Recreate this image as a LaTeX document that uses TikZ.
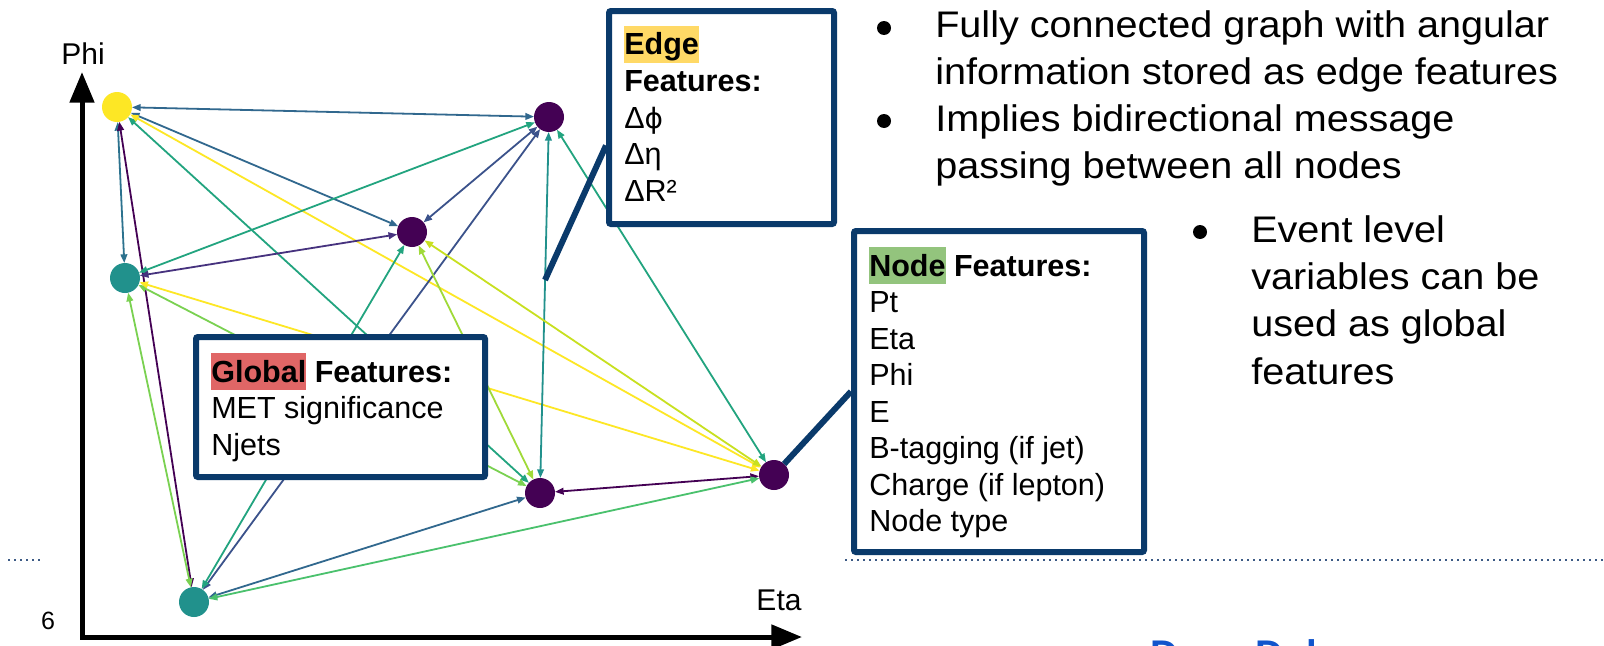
\documentclass[tikz,border=0pt]{standalone}
\usepackage{fontspec}
\setmainfont{Liberation Sans}
\newfontfamily\bulletfont[FakeStretch=1.07]{Liberation Sans}
\newfontfamily\greekfont{DejaVu Sans}
\usetikzlibrary{arrows.meta}

% frame and highlight colours
\definecolor{navy}{HTML}{0A3A6B}
\definecolor{dotblue}{HTML}{3C5A85}
\definecolor{hlred}{HTML}{E06666}
\definecolor{hlyellow}{HTML}{FFD966}
\definecolor{hlgreen}{HTML}{93C47D}
\definecolor{linkblue}{HTML}{1155CC}
% viridis shades for nodes and edges
\definecolor{vPurple}{HTML}{440154}
\definecolor{vIndigo}{HTML}{46327E}
\definecolor{vSlate}{HTML}{3B528B}
\definecolor{vSteel}{HTML}{31688E}
\definecolor{vBlueTeal}{HTML}{2C728E}
\definecolor{vTeal}{HTML}{21918C}
\definecolor{vSea}{HTML}{22A47F}
\definecolor{vGreen}{HTML}{4AC16D}
\definecolor{vLime}{HTML}{7AD151}
\definecolor{vLightLime}{HTML}{A0DA39}
\definecolor{vOlive}{HTML}{C8E020}
\definecolor{vYellow}{HTML}{FDE725}

\newcommand{\boxfont}{\fontsize{22.9pt}{27.4pt}\selectfont}
\newcommand{\bulletsize}{\bulletfont\fontsize{27.75pt}{35.6pt}\selectfont}
\newcommand{\hl}[2]{{\setlength{\fboxsep}{0pt}\colorbox{#1}{\rule[-0.25em]{0pt}{1.21em}#2}}}
\newcommand{\phisym}{{\greekfont\fontsize{21pt}{27.4pt}\selectfont ϕ}}

\begin{document}
\begin{tikzpicture}[x=0.75pt,y=-0.75pt,
  gnode/.style={circle,minimum size=22.5pt,inner sep=0pt,outer sep=0pt},
  graphedge/.style={line width=1.35pt,
    {Triangle[length=6.5pt,width=5pt]}-{Triangle[length=6.5pt,width=5pt]}},
  axisline/.style={line width=3.75pt,black,line join=miter,
    {Triangle[length=23pt,width=18pt]}-{Triangle[length=23pt,width=18pt]}},
  featbox/.style={draw=navy,line width=4.5pt,fill=white,rounded corners=1.5pt,inner sep=0pt},
  callout/.style={draw=navy,line width=4.5pt},
  boxtext/.style={anchor=base west,inner sep=0pt,font=\boxfont},
  bullettext/.style={anchor=base west,inner sep=0pt,font=\bulletsize},
  bulletdot/.style={circle,fill=black,minimum size=10.5pt,inner sep=0pt},
  dotline/.style={dotblue,line width=1.5pt,dash pattern=on 1.5pt off 3pt},
  axislabel/.style={inner sep=0pt,font=\fontsize{22.5pt}{27pt}\selectfont}
]
\useasboundingbox (0,0) rectangle (1604,646);
\fill[white] (0,0) rectangle (1604,646);

% dotted separators
\coordinate (dl1) at (8,560);
\coordinate (dl2) at (44,560);
\coordinate (dr1) at (845,560);
\coordinate (dr2) at (1604,560);
\draw[dotline] (dl1) -- (dl2);
\draw[dotline] (dr1) -- (dr2);

% axes
\coordinate (O) at (82,637);
\coordinate (ytip) at (82,72);
\coordinate (xtip) at (802,637);
\draw[axisline] (ytip) -- (O) -- (xtip);
\node[axislabel] (philabel) at (83,54) {Phi};
\node[axislabel] (etalabel) at (779,600) {Eta};
\node[inner sep=0pt,font=\fontsize{18.75pt}{22pt}\selectfont] (pagenum) at (48,621) {6};

% graph nodes
\node[gnode,fill=vYellow] (Y) at (117,107) {};
\node[gnode,fill=vTeal] (T1) at (125,278) {};
\node[gnode,fill=vPurple] (P1) at (549,117) {};
\node[gnode,fill=vPurple] (P2) at (412,232) {};
\node[gnode,fill=vPurple] (P3) at (540,493) {};
\node[gnode,fill=vPurple] (P4) at (774,475) {};
\node[gnode,fill=vTeal] (T2) at (194,602) {};

% fully connected, bidirectional edges
\draw[graphedge,vSteel] (Y) -- (P1);
\draw[graphedge,vSteel] (Y) -- (P2);
\draw[graphedge,vBlueTeal] (Y) -- (T1);
\draw[graphedge,vPurple] (Y) -- (T2);
\draw[graphedge,vSea] (Y) -- (P3);
\draw[graphedge,vYellow] (Y) -- (P4);
\draw[graphedge,vSea] (T1) -- (P1);
\draw[graphedge,vIndigo] (T1) -- (P2);
\draw[graphedge,vLime] (T1) -- (P3);
\draw[graphedge,vLime] (T1) -- (T2);
\draw[graphedge,vYellow] (T1) -- (P4);
\draw[graphedge,vSlate] (P1) -- (P2);
\draw[graphedge,vTeal] (P1) -- (P3);
\draw[graphedge,vSea] (P1) -- (P4);
\draw[graphedge,vSlate] (P1) -- (T2);
\draw[graphedge,vLightLime] (P2) -- (P3);
\draw[graphedge,vOlive] (P2) -- (P4);
\draw[graphedge,vSea] (P2) -- (T2);
\draw[graphedge,vPurple] (P3) -- (P4);
\draw[graphedge,vSteel] (P3) -- (T2);
\draw[graphedge,vGreen] (P4) -- (T2);

% feature boxes
\coordinate (etail) at (545,280);
\node[featbox,minimum width=168.75pt,minimum height=159.75pt] (ebox) at (721.5,117.5) {};
\node[featbox,minimum width=217.5pt,minimum height=240.75pt] (nbox) at (999,391.5) {};
\node[featbox,minimum width=216.75pt,minimum height=105pt] (gbox) at (340.5,407) {};
\coordinate (ehead) at ([yshift=-21pt]ebox.west);
\draw[callout] (etail) -- (ehead);
\draw[callout] (P4) -- (nbox.west);

\node[boxtext] (etext) at (624,55) {\begin{tabular}[t]{@{}l@{}}
  \hl{hlyellow}{\textbf{Edge}}\\ \textbf{Features:}\\ Δ\phisym\\ Δη\\ ΔR²\end{tabular}};
\node[boxtext] (ntext) at (869,276) {\begin{tabular}[t]{@{}l@{}}
  \hl{hlgreen}{\textbf{Node}} \textbf{Features:}\\ Pt\\ Eta\\ Phi\\ E\\
  B-tagging (if jet)\\ Charge (if lepton)\\ Node type\end{tabular}};
\node[boxtext] (gtext) at (211,382) {\begin{tabular}[t]{@{}l@{}}
  \hl{hlred}{\textbf{Global}} \textbf{Features:}\\ MET significance\\ Njets\end{tabular}};

% bullet points
\node[bulletdot] (b1) at (884,28) {};
\node[bulletdot] (b2) at (884,121) {};
\node[bulletdot] (b3) at (1200,232) {};
\node[bullettext] (t1) at (935,37) {\begin{tabular}[t]{@{}l@{}}
  Fully connected graph with angular\\ information stored as edge features\end{tabular}};
\node[bullettext] (t2) at (935,131) {\begin{tabular}[t]{@{}l@{}}
  Implies bidirectional message\\ passing between all nodes\end{tabular}};
\node[bullettext] (t3) at (1251,242) {\begin{tabular}[t]{@{}l@{}}
  Event level\\ variables can be\\ used as global\\ features\end{tabular}};

% footer name, cut by the lower page edge
\begin{scope}
  \clip (0,0) rectangle (1604,646);
  \node[anchor=base west,inner sep=0pt,text=linkblue,
        font=\fontsize{28.9pt}{34pt}\selectfont\bfseries] (footer) at (1150,667) {Drew Dukes};
\end{scope}
\end{tikzpicture}
\end{document}
